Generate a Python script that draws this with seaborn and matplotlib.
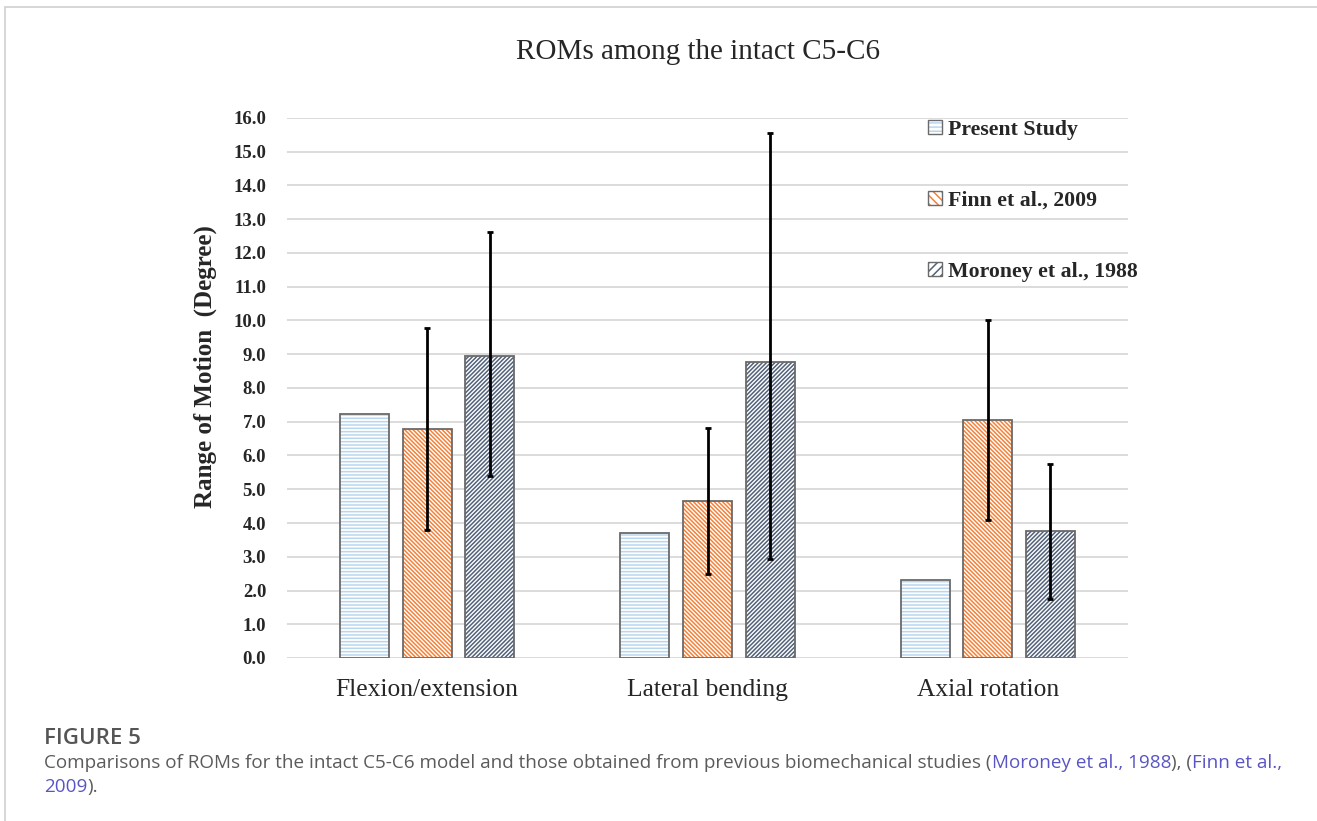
import matplotlib
matplotlib.use("Agg")
import matplotlib.pyplot as plt
from matplotlib.patches import Rectangle, Patch
import seaborn as sns
import pandas as pd

# ---- data ----
motions = ["Flexion/extension", "Lateral bending", "Axial rotation"]
studies = ["Present Study", "Finn et al., 2009", "Moroney et al., 1988"]
present = [7.23, 3.70, 2.31]
finn = [6.79, 4.65, 7.05]
finn_err_low = [3.00, 2.16, 2.96]
finn_err_high = [3.00, 2.16, 2.95]
moroney = [8.95, 8.77, 3.76]
moroney_err_low = [3.55, 5.84, 2.01]
moroney_err_high = [3.66, 6.79, 1.99]
yticks = [0, 1, 2, 3, 4, 5, 6, 7, 8, 9, 10, 11, 12, 13, 14, 15, 16]

df = pd.DataFrame({
    "Motion": motions * 3,
    "ROM": present + finn + moroney,
    "Study": [studies[0]] * 3 + [studies[1]] * 3 + [studies[2]] * 3,
})

sns.set_theme(style="white")
plt.rcParams["font.family"] = ["Liberation Serif", "DejaVu Serif"]
plt.rcParams["hatch.linewidth"] = 1.1

fig = plt.figure(figsize=(13.17, 8.21), dpi=100)
ax = fig.add_axes([287 / 1317, 1 - 658 / 821, (1128 - 287) / 1317, (658 - 118) / 821])

hatch_colors = ["#b9d6ef", "#f4823a", "#52627a"]
hatches = ["-" * 5, "\\" * 8, "/" * 8]

sns.barplot(data=df, x="Motion", y="ROM", hue="Study", order=motions, hue_order=studies,
            palette=["white"] * 3, width=0.67, gap=0.22, errorbar=None, legend=False, ax=ax)

outline = "#6a6a6a"
for cont, hc, h in zip(ax.containers, hatch_colors, hatches):
    for p in cont.patches:
        p.set_facecolor("white")
        p.set_hatch(h)
        p.set_edgecolor(hc)
        p.set_linewidth(0)
        ax.add_patch(Rectangle((p.get_x(), p.get_y()), p.get_width(), p.get_height(),
                               fill=False, ec=outline, lw=1.3, zorder=p.get_zorder() + 0.1))

# error bars (Finn & Moroney)
for cont, vals, lo, hi in [(ax.containers[1], finn, finn_err_low, finn_err_high),
                           (ax.containers[2], moroney, moroney_err_low, moroney_err_high)]:
    xs = [p.get_x() + p.get_width() / 2 for p in cont.patches]
    ax.errorbar(xs, vals, yerr=[lo, hi], fmt="none", ecolor="black",
                elinewidth=2.0, capsize=2.5, capthick=2.0, zorder=5)

ax.set_ylim(0, 16)
ax.set_xlim(-0.5, 2.5)
ax.set_yticks(yticks)
ax.set_yticklabels([f"{v:.1f}" for v in yticks], fontweight="bold", fontsize=13.5)
ax.yaxis.grid(True, color="#d9d9d9", lw=1.3)
ax.set_axisbelow(True)
for s in ax.spines.values():
    s.set_visible(False)
ax.tick_params(axis="y", length=0, pad=15)
ax.tick_params(axis="x", length=0, pad=15, labelsize=18.4)
ax.set_xlabel("")
ax.set_ylabel("Range of Motion  (Degree)", fontsize=18, fontweight="bold")
ax.yaxis.set_label_coords(-0.0832, 0.539)

handles = [(Patch(facecolor="white", edgecolor=hc, hatch=h[:4], lw=0),
            Patch(facecolor="none", edgecolor=outline, lw=1.0))
           for hc, h in zip(hatch_colors, hatches)]
leg = ax.legend(handles, studies, frameon=False, loc="upper left",
                bbox_to_anchor=((928 - 287) / 841, 0.997),
                prop={"family": "Liberation Serif", "weight": "bold", "size": 15.7},
                handlelength=0.62, handleheight=0.62, handletextpad=0.3, labelspacing=2.34,
                borderaxespad=0, borderpad=0)

fig.text(698 / 1317, 1 - 52 / 821, "ROMs among the intact C5-C6", ha="center", va="center",
         fontsize=21, family="Liberation Serif")

# frame border
fig.patches.append(Rectangle((5 / 1317, -0.1), 1.2, 1.1 - 7 / 821, transform=fig.transFigure,
                             fill=False, ec="#d0d0d0", lw=1.2))

# caption
cap_font = ["Open Sans", "DejaVu Sans"]
gray = "#5b5b5b"
link = "#5a55c4"
fig.text(44 / 1317, 1 - 738 / 821, "FIGURE 5", fontsize=16, family=cap_font,
         fontweight="semibold", color="#555555", va="center")

fig.canvas.draw()
renderer = fig.canvas.get_renderer()

def run_text(pieces, x0, y):
    x = x0
    for txt, col in pieces:
        t = fig.text(x, y, txt, fontsize=13.6, family=cap_font, color=col, va="center")
        bb = t.get_window_extent(renderer=renderer)
        x = x + bb.width / fig.bbox.width

run_text([("Comparisons of ROMs for the intact C5-C6 model and those obtained from previous biomechanical studies (", gray),
          ("Moroney et al., 1988", link), ("), (", gray), ("Finn et al.,", link)], 44 / 1317, 1 - 763 / 821)
run_text([("2009", link), (").", gray)], 44 / 1317, 1 - 787 / 821)

fig.savefig("out.png", dpi=100)
